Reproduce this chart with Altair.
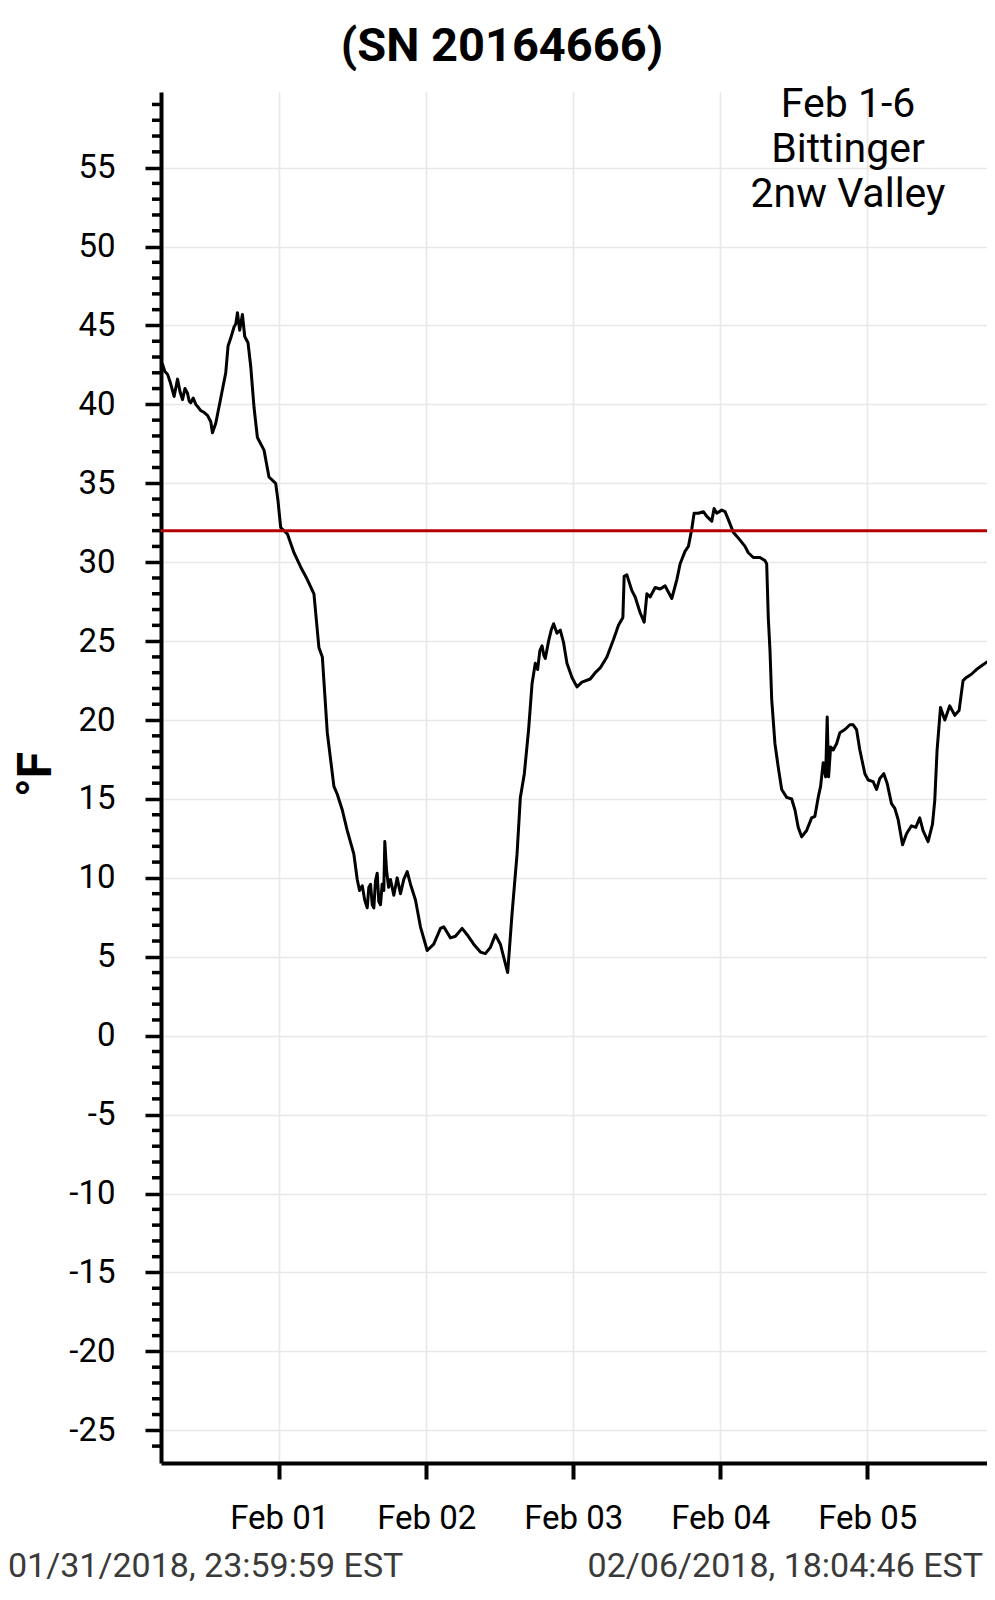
import altair as alt
import pandas as pd

# ---------------- data ----------------
title_text = "(SN 20164666)"
y_title = "°F"
note_lines = ["Feb 1-6", "Bittinger", "2nw Valley"]
start_label = "01/31/2018, 23:59:59 EST"
end_label = "02/06/2018, 18:04:46 EST"
threshold_f = [32]
tick_dates = ["2018-02-01", "2018-02-02", "2018-02-03", "2018-02-04", "2018-02-05"]
y_major_ticks = list(range(-25, 60, 5))
y_minor_ticks = [v for v in range(-26, 60) if v % 5 != 0]
view_hours = [-19.31, 115.55]          # visible time window, hours from Feb 01 00:00
y_domain = [-27.07, 59.79]

# hours after 2018-02-01 00:00
hours = [
    -19.10, -18.70, -18.24, -17.80, -17.17, -16.61, -16.20, -15.80, -15.40, -14.98,
    -14.70, -14.45, -14.05, -13.63, -13.20, -12.82, -12.30, -11.72, -11.18, -10.91,
    -10.37, -9.55, -8.74, -8.36, -7.92, -7.39, -7.10, -6.83, -6.46,
    -6.02, -5.64, -5.10, -4.66, -4.12, -3.57, -2.49, -1.68, -0.59, -0.21,
    0.23, 1.32, 2.40, 3.49, 4.58,
    5.66, 6.47, 7.03, 7.84, 8.92, 9.47, 10.29, 11.10, 12.18, 12.73,
    13.10, 13.55, 13.95, 14.36, 14.62, 14.90, 15.18, 15.44, 15.70, 15.99,
    16.25, 16.53, 16.80, 17.07, 17.23, 17.51, 17.85, 18.16,
    18.70, 19.25, 19.79, 20.33, 20.89, 21.42, 22.24, 23.05, 24.15, 25.22,
    26.32, 26.85, 27.95, 28.76, 29.85, 30.67, 31.74, 32.84, 33.65, 34.47,
    35.28, 36.10, 36.63, 37.29, 38.00, 38.82, 39.36, 40.01, 40.71, 41.27,
    41.80, 42.18, 42.55, 42.90, 43.20, 43.43, 43.97, 44.40, 44.79, 45.34, 45.88, 46.42, 46.97,
    47.79, 48.60, 49.42, 50.77, 51.59,
    52.40, 53.49, 54.57, 55.38, 56.10, 56.31, 56.75, 57.57, 58.11, 58.92,
    59.58, 60.02, 60.55, 61.37, 62.18, 63.00, 63.54, 64.09, 64.91, 65.45,
    66.26, 66.80, 67.35, 67.73, 68.43, 69.24, 69.80, 70.61, 70.99, 71.43,
    72.24, 72.78, 73.32, 74.13, 75.23, 76.04, 76.58, 77.40, 78.49, 79.30,
    79.58, 79.84, 80.12, 80.40, 80.93, 81.47, 82.03, 82.84, 83.66, 84.20,
    84.73, 85.29, 86.10, 86.92, 87.45, 87.99, 88.38, 88.81, 89.20, 89.46,
    89.69, 90.02, 90.44, 90.99, 91.53, 92.35, 93.16, 93.70, 94.25, 94.79,
    95.61, 96.15, 96.96, 97.52, 98.05, 98.70, 99.24, 99.96, 100.50, 101.04,
    101.76, 102.41, 103.22, 103.92, 104.57, 105.11, 105.93, 106.65, 107.02, 107.40,
    107.96, 108.66, 109.47, 110.29, 110.99, 111.64, 112.19, 113.00, 113.82, 114.89,
    115.99, 116.80,
]
temps = [
    42.6, 42.1, 41.9, 41.4, 40.5, 41.6, 40.8, 40.3, 41.0, 40.7,
    40.2, 40.1, 40.4, 40.0, 39.8, 39.6, 39.5, 39.3, 38.9, 38.2,
    38.8, 40.4, 42.0, 43.7, 44.2, 44.9, 45.1, 45.8, 44.7,
    45.7, 44.3, 43.9, 42.4, 39.8, 37.9, 37.1, 35.4, 35.0, 33.9,
    32.2, 31.8, 30.6, 29.7, 28.9,
    28.0, 24.6, 24.0, 19.2, 15.8, 15.3, 14.3, 13.0, 11.5, 9.9,
    9.2, 9.5, 8.6, 8.1, 9.4, 9.6, 8.3, 8.1, 9.8, 10.3,
    8.5, 8.3, 9.6, 9.2, 12.3, 10.5, 9.4, 9.9,
    8.9, 10.0, 9.0, 9.9, 10.4, 9.6, 8.6, 6.9, 5.4, 5.8,
    6.8, 6.9, 6.2, 6.3, 6.8, 6.4, 5.8, 5.3, 5.2, 5.6,
    6.4, 5.8, 5.0, 4.0, 7.7, 11.5, 15.1, 16.6, 19.4, 22.3,
    23.6, 23.2, 24.4, 24.7, 24.1, 23.9, 25.0, 25.7, 26.1, 25.5, 25.7, 24.9, 23.6,
    22.7, 22.1, 22.4, 22.6, 23.0,
    23.3, 24.0, 25.1, 26.0, 26.5, 29.1, 29.2, 28.2, 27.8, 26.8,
    26.2, 28.0, 27.8, 28.4, 28.3, 28.5, 28.1, 27.7, 28.9, 29.9,
    30.7, 31.0, 32.1, 33.1, 33.1, 33.2, 32.9, 32.6, 33.4, 33.1,
    33.3, 33.2, 32.7, 31.9, 31.4, 31.0, 30.6, 30.3, 30.3, 30.1,
    29.9, 26.5, 24.4, 21.3, 18.5, 17.0, 15.6, 15.1, 15.0, 14.3,
    13.2, 12.6, 13.0, 13.8, 13.9, 15.1, 15.8, 17.3, 16.4, 20.2,
    16.4, 18.3, 18.1, 18.5, 19.2, 19.4, 19.7, 19.7, 19.4, 18.1,
    16.6, 16.2, 16.1, 15.6, 16.3, 16.6, 16.0, 14.7, 14.4, 13.7,
    12.1, 12.8, 13.3, 13.2, 13.8, 13.0, 12.3, 13.4, 14.9, 18.1,
    20.8, 20.0, 20.9, 20.3, 20.6, 22.5, 22.7, 22.9, 23.2, 23.5,
    23.8, 24.1,
]

# ---------------- build tables ----------------
base = pd.Timestamp("2018-02-01T00:00:00Z")
times = [(base + pd.Timedelta(hours=h)).strftime("%Y-%m-%dT%H:%M:%SZ") for h in hours]
df = pd.DataFrame({"time": times, "temp": temps})

def ms(ts):
    return int(pd.Timestamp(ts).value // 10**6)

x_domain = [ms(base + pd.Timedelta(hours=view_hours[0])), ms(base + pd.Timedelta(hours=view_hours[1]))]
x_ticks = [ms(pd.Timestamp(d + "T00:00:00Z")) for d in tick_dates]

FONT = "Roboto"
y_scale = alt.Scale(domain=y_domain, nice=False, zero=False)

x_enc = alt.X(
    "time:T",
    title=None,
    scale=alt.Scale(type="utc", domain=x_domain),
    axis=alt.Axis(
        values=x_ticks, format="%b %d", labelFont=FONT, labelFontSize=33,
        labelColor="black", labelPadding=23, tickSize=16, tickWidth=4,
        tickColor="black", domainColor="black", domainWidth=4,
        grid=True, gridColor="#e8e8e8", gridWidth=1.6, labelFlush=False,
        labelOverlap=False,
    ),
)
y_enc = alt.Y(
    "temp:Q",
    title=y_title,
    scale=y_scale,
    axis=alt.Axis(
        values=y_major_ticks,
        labelExpr="'' + datum.value",
        tickSize=16, tickWidth=3.5, tickColor="black",
        domainColor="black", domainWidth=4,
        grid=True, gridColor="#e8e8e8", gridWidth=1.6,
        labelFont=FONT, labelFontSize=33, labelColor="black", labelPadding=30,
        labelOverlap=False, labelFlush=False,
        titleFont=FONT, titleFontSize=48, titleFontWeight="bold", titleColor="black",
        titleAngle=270, titleX=-125, titleY=682, titleBaseline="middle", titleAlign="center",
    ),
)

line = alt.Chart(df).mark_line(
    color="black", strokeWidth=3, clip=True, strokeJoin="round"
).encode(x=x_enc, y=y_enc)

minor = alt.Chart(pd.DataFrame({"v": y_minor_ticks})).mark_rule(
    color="black", strokeWidth=3.5
).encode(y=alt.Y("v:Q", title=y_title, scale=y_scale), x=alt.value(-9), x2=alt.value(0))

rule = alt.Chart(pd.DataFrame({"t": threshold_f})).mark_rule(
    color="#b40000", strokeWidth=3
).encode(y=alt.Y("t:Q", title=y_title, scale=y_scale))

note = alt.Chart(pd.DataFrame({"k": [0]})).mark_text(
    text=note_lines, font=FONT, fontSize=41, lineHeight=45, align="center",
    baseline="alphabetic", color="black",
).encode(x=alt.value(687), y=alt.value(25))

start_txt = alt.Chart(pd.DataFrame({"k": [0]})).mark_text(
    text=start_label, font=FONT, fontSize=34, align="left", baseline="alphabetic", color="#3a3a3a",
).encode(x=alt.value(-153), y=alt.value(1485))

end_txt = alt.Chart(pd.DataFrame({"k": [0]})).mark_text(
    text=end_label, font=FONT, fontSize=34, align="right", baseline="alphabetic", color="#3a3a3a",
).encode(x=alt.value(822), y=alt.value(1485))

chart = alt.layer(line, minor, rule, note, start_txt, end_txt).properties(
    width=826,
    height=1371,
    title=alt.TitleParams(
        title_text, font=FONT, fontSize=47, fontWeight="bold", color="black",
        anchor="middle", dx=-72, dy=55, offset=31, baseline="alphabetic",
    ),
    autosize=alt.AutoSizeParams(type="none"),
    padding={"left": 153, "top": 84, "right": 0, "bottom": 129},
).configure_view(strokeWidth=0)

chart.save("out.html", embed_options={"renderer": "svg", "actions": False})
